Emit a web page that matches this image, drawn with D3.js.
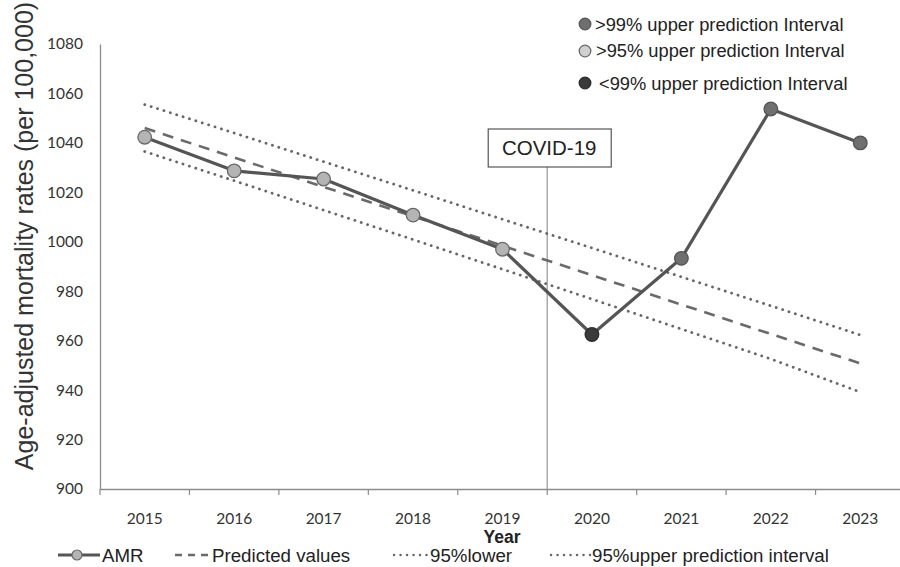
<!DOCTYPE html>
<html><head><meta charset="utf-8">
<script src="https://cdn.jsdelivr.net/npm/d3@7"></script>
<style>body{margin:0;background:#fff}svg{display:block}</style>
</head><body><svg id="c" width="900" height="567"></svg>
<script>
const years = ["2015","2016","2017","2018","2019","2020","2021","2022","2023"];
const amr = [1042.3, 1028.7, 1025.4, 1010.8, 997.0, 962.5, 993.3, 1053.7, 1040.0];
const predicted = [1046.0, 1034.1, 1022.2, 1010.3, 998.4, 986.5, 974.6, 962.7, 950.8];
const upper95 = [1055.5, 1044.0, 1032.4, 1020.8, 1009.1, 997.5, 985.8, 974.1, 962.3];
const lower95 = [1036.5, 1024.7, 1012.8, 1000.9, 988.9, 976.8, 964.7, 952.6, 939.2];
// marker class: 0 = >95% (light), 1 = >99% (mid), 2 = <99% (dark)
const markerClass = [0, 0, 0, 0, 0, 2, 1, 1, 1];
const yTicks = [900, 920, 940, 960, 980, 1000, 1020, 1040, 1060, 1080];
const topLegend = [">99% upper prediction Interval", ">95% upper prediction Interval", "<99% upper prediction Interval"];
const bottomLegend = ["AMR", "Predicted values", "95%lower", "95%upper prediction interval"];

const svg = d3.select("#c");
const x = d3.scaleBand().domain(years).range([100, 905]).paddingInner(0).paddingOuter(0);
const y = d3.scaleLinear().domain([900, 1080]).range([489, 44]);
const cx = d => x(d) + x.bandwidth() / 2;
const markerFill = ["#b4b4b4", "#6f6f6f", "#3a3a3a"];
const markerStroke = ["#6a6a6a", "#555", "#2a2a2a"];
const tickFont = "Lato, 'DejaVu Sans Condensed', sans-serif";
const txtFont = "'Liberation Sans', Arial, sans-serif";

// axes
const yAxis = svg.append("g").attr("transform", "translate(100,0)")
  .call(d3.axisLeft(y).tickValues(yTicks).tickFormat(d3.format("d")).tickSize(0).tickPadding(17));
yAxis.select(".domain").attr("stroke", "#8c8c8c").attr("stroke-width", 1.3);
yAxis.selectAll("text").attr("font-family", tickFont).attr("font-size", 15.5).attr("fill", "#333");

const xAxis = svg.append("g").attr("transform", "translate(0,489)")
  .call(d3.axisBottom(x).tickSize(0).tickPadding(24));
xAxis.select(".domain").attr("stroke", "#8c8c8c").attr("stroke-width", 1.3);
xAxis.selectAll("text").attr("font-family", tickFont).attr("font-size", 15.5).attr("fill", "#333");
// boundary ticks
svg.append("g").selectAll("line").data(years).join("line")
  .attr("x1", (d, i) => x(d)).attr("x2", (d, i) => x(d))
  .attr("y1", 489).attr("y2", 495).attr("stroke", "#8c8c8c").attr("stroke-width", 1.2);

// COVID marker
const covX = x("2020");
svg.append("line").attr("x1", covX).attr("x2", covX).attr("y1", 167).attr("y2", 489)
  .attr("stroke", "#aaa").attr("stroke-width", 1.5);
svg.append("rect").attr("x", covX - 59).attr("y", 129).attr("width", 123).attr("height", 38)
  .attr("fill", "#fff").attr("stroke", "#555").attr("stroke-width", 1.2);
svg.append("text").attr("x", covX + 2).attr("y", 155).attr("text-anchor", "middle")
  .attr("font-family", txtFont).attr("font-size", 20.5).attr("fill", "#222").text("COVID-19");

// lines
const line = arr => d3.line().x((d, i) => cx(years[i])).y(d => y(d))(arr);
svg.append("path").attr("d", line(upper95)).attr("fill", "none").attr("stroke", "#666")
  .attr("stroke-width", 2.8).attr("stroke-dasharray", "0.1,6.6").attr("stroke-linecap", "round");
svg.append("path").attr("d", line(lower95)).attr("fill", "none").attr("stroke", "#666")
  .attr("stroke-width", 2.8).attr("stroke-dasharray", "0.1,6.6").attr("stroke-linecap", "round");
svg.append("path").attr("d", line(predicted)).attr("fill", "none").attr("stroke", "#6a6a6a")
  .attr("stroke-width", 2.6).attr("stroke-dasharray", "11,8");
svg.append("path").attr("d", line(amr)).attr("fill", "none").attr("stroke", "#555")
  .attr("stroke-width", 3.2).attr("stroke-linejoin", "round");
svg.append("g").selectAll("circle").data(amr).join("circle")
  .attr("cx", (d, i) => cx(years[i])).attr("cy", d => y(d)).attr("r", 6.8)
  .attr("fill", (d, i) => markerFill[markerClass[i]])
  .attr("stroke", (d, i) => markerStroke[markerClass[i]]).attr("stroke-width", 1.3);

// Axis titles
svg.append("text").attr("transform", "translate(33,236) rotate(-90)").attr("text-anchor", "middle")
  .attr("font-family", txtFont).attr("font-size", 25).attr("fill", "#333")
  .text("Age-adjusted mortality rates (per 100,000)");
svg.append("text").attr("x", 502).attr("y", 543).attr("text-anchor", "middle")
  .attr("font-family", txtFont).attr("font-weight", "bold").attr("font-size", 17.5).attr("fill", "#222").text("Year");

// top-right legend
const tl = [{cls: 1, cy: 24, tx: 595, ty: 31}, {cls: 0, cy: 51, tx: 596, ty: 57}, {cls: 2, cy: 83, tx: 599, ty: 90}];
tl.forEach((p, i) => {
  svg.append("circle").attr("cx", 585).attr("cy", p.cy).attr("r", 5.8)
    .attr("fill", i === 1 ? "#d0d0d0" : markerFill[p.cls]).attr("stroke", markerStroke[p.cls]).attr("stroke-width", 1.3);
  svg.append("text").attr("x", p.tx).attr("y", p.ty).attr("font-family", txtFont).attr("font-size", 18.3)
    .attr("fill", "#222").text(topLegend[i]);
});

// bottom legend
const ly = 555;
svg.append("line").attr("x1", 58).attr("x2", 100).attr("y1", ly).attr("y2", ly).attr("stroke", "#555").attr("stroke-width", 3.2);
svg.append("circle").attr("cx", 77).attr("cy", ly).attr("r", 5).attr("fill", "#b4b4b4").attr("stroke", "#6a6a6a").attr("stroke-width", 1.2);
svg.append("line").attr("x1", 175).attr("x2", 211).attr("y1", ly).attr("y2", ly).attr("stroke", "#6a6a6a").attr("stroke-width", 2.4).attr("stroke-dasharray", "7,6");
svg.append("line").attr("x1", 394).attr("x2", 430).attr("y1", ly).attr("y2", ly).attr("stroke", "#666").attr("stroke-width", 2.4).attr("stroke-dasharray", "0.1,6.4").attr("stroke-linecap", "round");
svg.append("line").attr("x1", 551).attr("x2", 592).attr("y1", ly).attr("y2", ly).attr("stroke", "#666").attr("stroke-width", 2.4).attr("stroke-dasharray", "0.1,6.4").attr("stroke-linecap", "round");
const lx = [102, 212, 430, 592];
bottomLegend.forEach((t, i) => {
  svg.append("text").attr("x", lx[i]).attr("y", 562).attr("font-family", txtFont).attr("font-size", 18.7)
    .attr("fill", "#222").text(t);
});
</script></body></html>
